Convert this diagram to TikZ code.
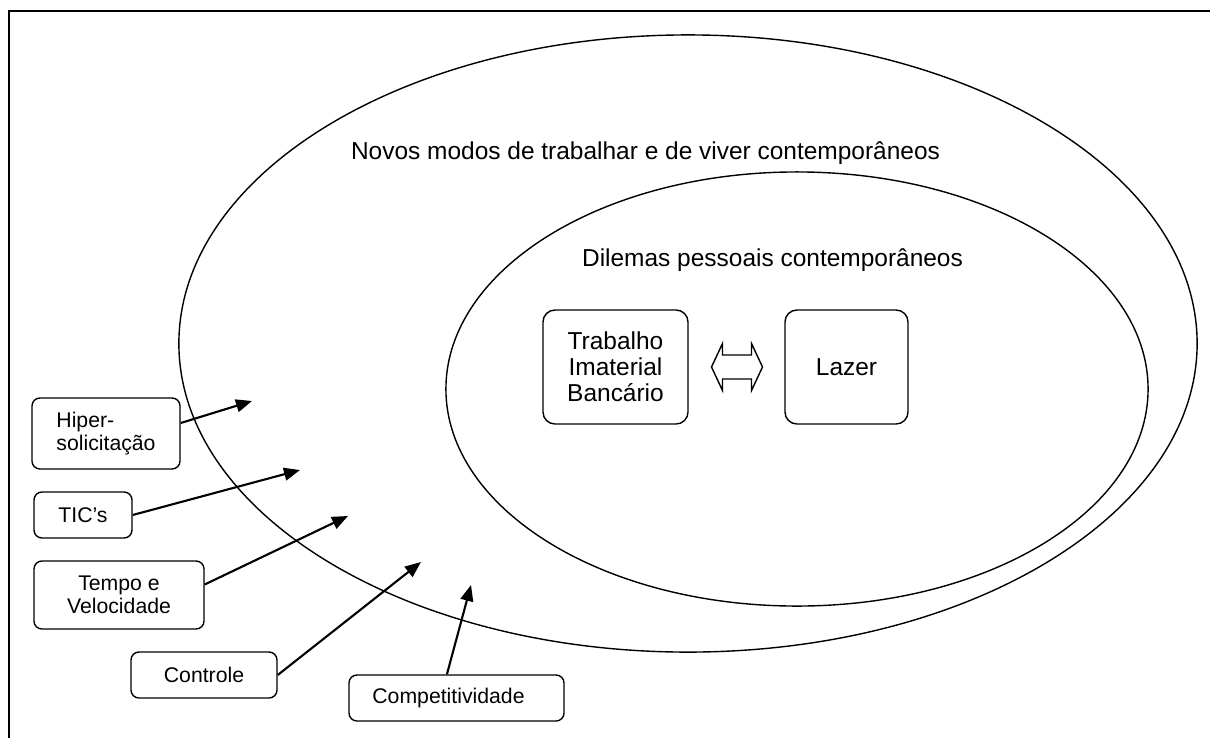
\documentclass[tikz,border=0pt]{standalone}
\usepackage{fontspec}
\setmainfont{Liberation Sans}
\usetikzlibrary{arrows.meta,calc}
\begin{document}
\begin{tikzpicture}[x=.025cm,y=-.025cm,
	box/.style={draw,line width=1pt,rounded corners=.2cm,inner sep=0pt,align=center,font=\fontsize{15.1}{16}\selectfont},
	bigbox/.style={box,rounded corners=.3cm,font=\fontsize{17.4}{18.5}\selectfont},
	lbl/.style={anchor=base,inner sep=0pt,font=\fontsize{17.4}{18.5}\selectfont},
	arr/.style={-{Triangle[length=.4cm,width=.32cm]},line width=1.5pt}]
		\useasboundingbox (0,0) rectangle (1210,738);
		\draw[line width=1.2pt] (9,738) -- (9,11) -- (1210,11);
		
		\draw[line width=1pt] (688,343.5) ellipse [x radius=12.725cm, y radius=7.7125cm];
		\draw[line width=1pt] (797,389) ellipse [x radius=8.775cm, y radius=5.425cm];
		\node[lbl] (novos) at (645.5,159) {Novos modos de trabalhar e de viver contemporâneos};
		\node[lbl] (dilemas) at (772.5,266) {Dilemas pessoais contemporâneos};
		
		\node[bigbox,minimum width=3.625cm,minimum height=2.85cm] (trab) at (615.5,367) {Trabalho\\Imaterial\\Bancário};
		\node[bigbox,minimum width=3.075cm,minimum height=2.85cm] (lazer) at (846.5,367) {Lazer};
		\coordinate (dbl) at ($(trab.east)!.5!(lazer.west)$);
		\draw[line width=1pt] (dbl) ++(-25,0) -- ++(11,-23.5) -- ++(0,11.5) -- ++(29,0) -- ++(0,-11.5) -- ++(11,23.5) -- ++(-11,23.5) -- ++(0,-11.5) -- ++(-29,0) -- ++(0,11.5) -- cycle;
		
		\node[box,align=left,minimum width=3.7cm,minimum height=1.775cm] (hiper) at (106,433.5) {Hiper-\\solicitação};
		\node[box,minimum width=2.45cm,minimum height=1.15cm] (tic) at (83,515) {TIC’s};
		\node[box,minimum width=4.25cm,minimum height=1.7cm] (tempo) at (119,595) {Tempo e\\Velocidade};
		\node[box,minimum width=3.65cm,minimum height=1.15cm] (controle) at (204,675) {Controle};
		\node[box,minimum width=5.375cm,minimum height=1.15cm] (compet) at (456.5,698) {Competitividade\hspace*{.4cm}};
		
		\coordinate (h1) at (252,401); \coordinate (t1) at (300,470);
		\coordinate (v1) at (348,516); \coordinate (c1) at (421,562);
		\coordinate (p1) at (471,585);
		\draw[arr] (hiper.8) -- (h1);
		\draw[arr] (tic.east) -- (t1);
		\draw[arr] (tempo.7) -- (v1);
		\draw[arr] (controle.east) -- (c1);
		\draw[arr] (compet.112) -- (p1);
		
\end{tikzpicture}
\end{document}
